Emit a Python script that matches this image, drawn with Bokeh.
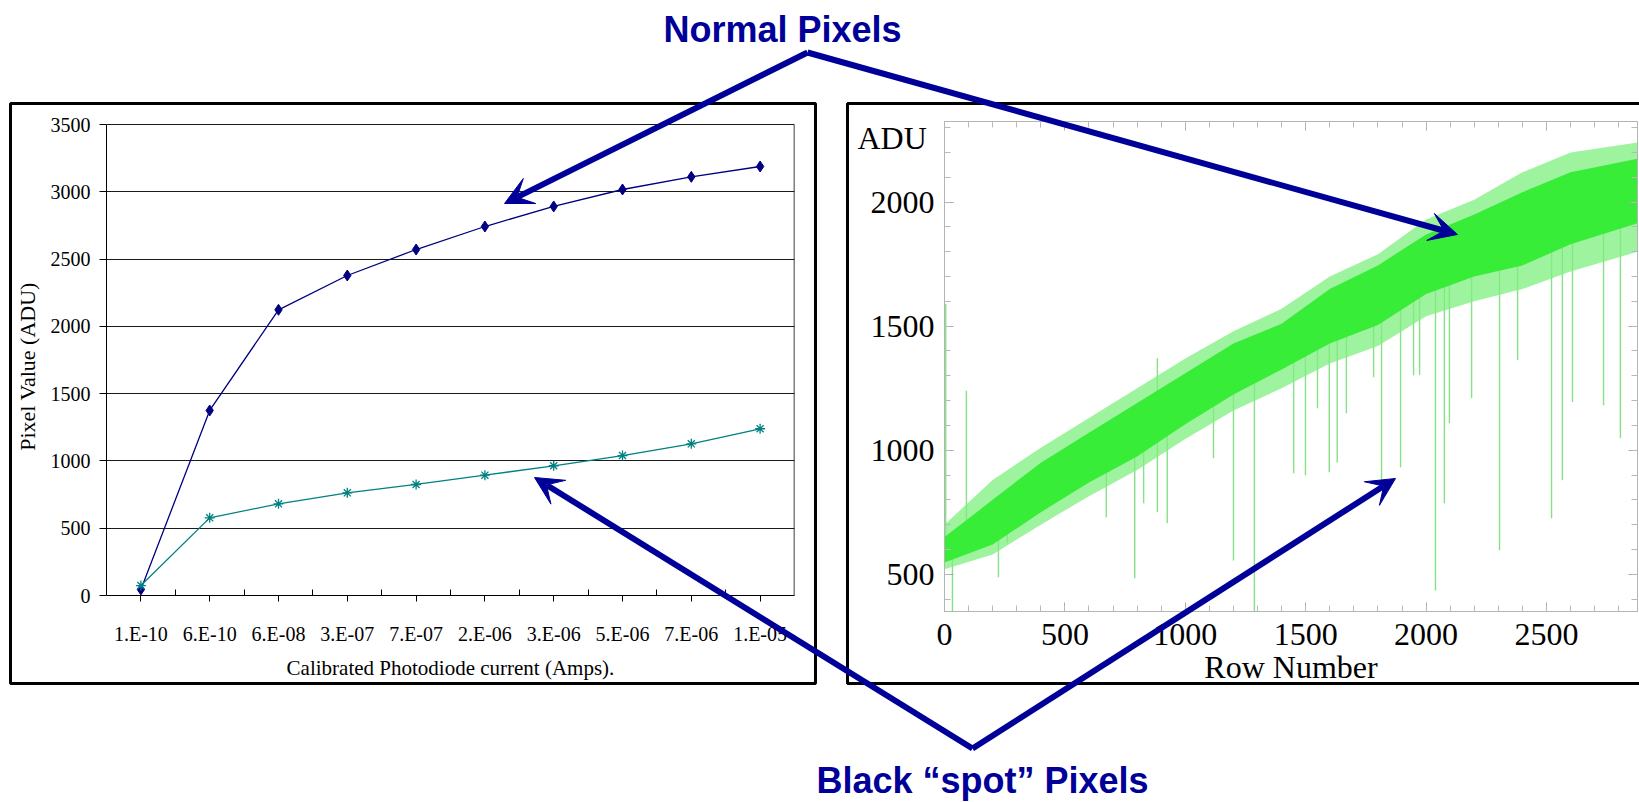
import numpy as np
from bokeh.plotting import figure
from bokeh.models import (Range1d, FixedTicker, LinearAxis, Arrow, VeeHead, Label,
                          BoxAnnotation)
from bokeh.layouts import row, column
from bokeh.embed import file_html
from bokeh.resources import INLINE

# ---------------- data: left chart ----------------
currents = ["1.E-10", "6.E-10", "6.E-08", "3.E-07", "7.E-07",
            "2.E-06", "3.E-06", "5.E-06", "7.E-06", "1.E-05"]
normal_adu = [45, 1375, 2123, 2378, 2571, 2742, 2891, 3017, 3111, 3188]
spot_adu = [74, 577, 681, 763, 825, 894, 964, 1040, 1127, 1239]
left_y_ticks = [0, 500, 1000, 1500, 2000, 2500, 3000, 3500]

# ---------------- data: right chart (row profile) ----------------
band_rows = [0, 200, 400, 600, 800, 1000, 1200, 1400, 1600, 1800, 2000, 2200, 2400, 2600, 2878]
core_low = [548, 620, 750, 870, 975, 1105, 1225, 1325, 1430, 1505, 1630, 1700, 1745, 1830, 1915]
core_high = [650, 800, 950, 1070, 1190, 1310, 1430, 1510, 1650, 1745, 1870, 1950, 2040, 2120, 2175]
tip_low = [520, 580, 700, 815, 920, 1045, 1160, 1250, 1350, 1420, 1540, 1600, 1650, 1720, 1800]
tip_high = [700, 880, 1010, 1130, 1250, 1370, 1480, 1570, 1700, 1790, 1930, 2010, 2120, 2200, 2240]
dip_rows = [5, 33, 91, 224, 261, 672, 790, 827, 884, 925, 1117, 1200, 1287, 1450, 1499,
            1549, 1598, 1631, 1669, 1782, 1815, 1894, 1948, 1973, 2039, 2076, 2097, 2189,
            2305, 2380, 2521, 2566, 2608, 2737, 2807]
dip_end = [1590, 340, 1240, 488, 625, 730, 484, 786, 1371, 706, 968, 556, 340, 907, 899,
           1169, 911, 951, 1149, 1294, 871, 931, 1302, 1304, 435, 786, 1109, 1210,
           597, 1363, 726, 879, 1194, 1181, 1048]
dip_start = [600, 600, 660, 700, 720, 960, 1040, 1060, 750, 1110, 1260, 1300, 1360, 1400, 1420,
             1450, 1480, 1500, 1520, 1580, 1600, 1640, 1680, 1690, 1720, 1740, 1750, 1790,
             1830, 1860, 1900, 1920, 1940, 1990, 2010]
right_x_ticks = [0, 500, 1000, 1500, 2000, 2500]
right_y_ticks = [500, 1000, 1500, 2000]

SERIF = "Liberation Serif"
SANS = "Liberation Sans"
ANN = "#000099"
W, H = 1639, 802

# shared frame (the two charts sit in one row, whose frames line up)
FRAME_TOP, FRAME_BOTTOM = 121, 611
# left chart: value 0 sits at y=595 px and 3500 at y=124 px
L_PX_PER_UNIT = (595 - 124) / 3500.0
l_ymin = -(FRAME_BOTTOM - 595) / L_PX_PER_UNIT
l_ymax = 3500 + (124 - FRAME_TOP) / L_PX_PER_UNIT

# ---------------- left chart ----------------
xpos = list(range(1, len(currents) + 1))
x_lo, x_hi = 0.5, len(currents) + 0.5
A = figure(width=832, height=H, x_range=Range1d(x_lo, x_hi),
           y_range=Range1d(l_ymin, l_ymax), output_backend="svg", toolbar_location=None,
           min_border_left=106, min_border_right=38, min_border_top=FRAME_TOP,
           min_border_bottom=H - FRAME_BOTTOM, title=None)
A.background_fill_color = "white"
A.border_fill_color = "white"
A.outline_line_color = None
A.xgrid.visible = False
A.ygrid.grid_line_color = "#1a1a1a"
A.ygrid.ticker = FixedTicker(ticks=left_y_ticks)

x_ticker = FixedTicker(ticks=xpos, minor_ticks=[i + 0.5 for i in xpos[:-1]])

# labels axis (sits at frame bottom, draws only the texts)
label_ax = A.below[0]
label_ax.ticker = x_ticker
label_ax.major_label_overrides = {i: c for i, c in zip(xpos, currents)}
label_ax.axis_line_color = None
label_ax.major_tick_line_color = None
label_ax.minor_tick_line_color = None
label_ax.major_tick_out = 0
label_ax.minor_tick_out = 0
label_ax.major_tick_in = 0
label_ax.minor_tick_in = 0
label_ax.major_label_standoff = 11
label_ax.axis_label = "Calibrated Photodiode current (Amps)."
label_ax.axis_label_standoff = 8

# axis line and ticks at value 0
line_ax = LinearAxis(ticker=x_ticker, fixed_location=left_y_ticks[0],
                     major_label_overrides={i: "" for i in xpos},
                     major_tick_in=0, major_tick_out=6, minor_tick_in=6, minor_tick_out=0,
                     axis_line_color="black", major_tick_line_color="black",
                     minor_tick_line_color="black")
A.add_layout(line_ax, "below")

y_ax = A.left[0]
y_ax.ticker = FixedTicker(ticks=left_y_ticks)
y_ax.bounds = (left_y_ticks[0], left_y_ticks[-1])
y_ax.major_tick_in = 0
y_ax.major_tick_out = 7
y_ax.minor_tick_in = 0
y_ax.minor_tick_out = 0
y_ax.major_label_standoff = 9
y_ax.axis_label = "Pixel Value (ADU)"
y_ax.axis_label_standoff = 8
y_ax.axis_line_color = "black"
y_ax.major_tick_line_color = "black"

for ax in (label_ax, y_ax):
    ax.major_label_text_font = SERIF
    ax.major_label_text_font_size = "20px"
    ax.major_label_text_color = "black"
    ax.axis_label_text_font = SERIF
    ax.axis_label_text_font_style = "normal"
    ax.axis_label_text_color = "black"
label_ax.axis_label_text_font_size = "21px"
y_ax.axis_label_text_font_size = "22px"

# right edge of the plot area
A.segment(x0=[x_hi], y0=[left_y_ticks[0]], x1=[x_hi], y1=[left_y_ticks[-1]],
          line_color="black", line_width=1.5)

A.line(xpos, normal_adu, line_color="#000080", line_width=1.3)
A.scatter(xpos, normal_adu, marker="diamond", size=11, fill_color="#000080", line_color="#000080")
A.line(xpos, spot_adu, line_color="#008080", line_width=1.3)
A.scatter(xpos, spot_adu, marker="asterisk", size=10, line_color="#008080", line_width=1.3)

# ---------------- right chart ----------------
B = figure(width=W - 832, height=H, x_range=Range1d(0, 2878), y_range=Range1d(350, 2325),
           output_backend="svg", toolbar_location=None, title=None,
           min_border_left=112, min_border_right=2, min_border_top=FRAME_TOP,
           min_border_bottom=H - FRAME_BOTTOM)
B.background_fill_color = "white"
B.border_fill_color = "white"
B.grid.visible = False
B.outline_line_color = "#b4b4b4"

xt = FixedTicker(ticks=right_x_ticks, minor_ticks=list(range(0, 2900, 100)))
yt = FixedTicker(ticks=right_y_ticks, minor_ticks=list(range(400, 2400, 100)))
bottom_ax = B.below[0]
left_ax = B.left[0]
bottom_ax.ticker = xt
left_ax.ticker = yt
bottom_ax.axis_label = "Row Number"
bottom_ax.axis_label_standoff = 1
bottom_ax.major_label_standoff = 12
left_ax.major_label_standoff = 10
bottom_ax.major_label_text_font_size = "32px"
left_ax.major_label_text_font_size = "32px"

top_ax = LinearAxis(ticker=xt, major_label_overrides={t: "" for t in right_x_ticks},
                    major_label_standoff=0)
right_ax = LinearAxis(ticker=yt, major_label_overrides={t: "" for t in right_y_ticks},
                      major_label_standoff=0)
B.add_layout(top_ax, "above")
B.add_layout(right_ax, "right")

for ax in (bottom_ax, left_ax, top_ax, right_ax):
    ax.axis_line_color = "#b4b4b4"
    ax.major_tick_line_color = "#a8a8a8"
    ax.minor_tick_line_color = "#b8b8b8"
    ax.major_tick_in = 9
    ax.major_tick_out = 0
    ax.minor_tick_in = 6
    ax.minor_tick_out = 0
    ax.major_label_text_font = SERIF
    ax.major_label_text_color = "black"
    ax.axis_label_text_font = SERIF
    ax.axis_label_text_font_size = "32px"
    ax.axis_label_text_font_style = "normal"
    ax.axis_label_text_color = "black"

B.segment(x0=dip_rows, y0=dip_start, x1=dip_rows, y1=dip_end,
          line_color="#86e286", line_width=1.4)
B.varea(x=band_rows, y1=tip_low, y2=tip_high, fill_color="#7eef7e", fill_alpha=0.75)
B.varea(x=band_rows, y1=core_low, y2=core_high, fill_color="#33ec33", fill_alpha=0.95)

# ---------------- overlay with frames, arrows and titles ----------------
C = figure(width=W, height=H, x_range=Range1d(0, W), y_range=Range1d(0, H),
           output_backend="svg", toolbar_location=None, title=None,
           x_axis_location=None, y_axis_location=None, min_border=0)
C.grid.visible = False
C.background_fill_alpha = 0
C.border_fill_alpha = 0
C.outline_line_color = None


def Y(v):
    return H - v


C.add_layout(BoxAnnotation(left=10, right=815, bottom=Y(683), top=Y(103), fill_alpha=0,
                           line_color="black", line_alpha=1.0, line_width=3))
C.add_layout(BoxAnnotation(left=847, right=W + 20, bottom=Y(683), top=Y(103), fill_alpha=0,
                           line_color="black", line_alpha=1.0, line_width=3))

C.add_layout(Label(x=857, y=Y(137), text="ADU", text_font=SERIF, text_font_size="32px",
                   text_color="black", text_align="left", text_baseline="alphabetic"))

arrows = [((807, 52), (504, 203)), ((807, 52), (1457, 234)),
          ((972, 748), (534, 477)), ((972, 748), (1395, 478))]
for (xs, ys), (xe, ye) in arrows:
    C.add_layout(Arrow(x_start=xs, y_start=Y(ys), x_end=xe, y_end=Y(ye),
                       line_color=ANN, line_width=6,
                       end=VeeHead(size=28, fill_color=ANN, line_color=ANN, line_width=1)))

C.add_layout(Label(x=782, y=Y(29), text="Normal Pixels", text_font=SANS,
                   text_font_style="bold", text_font_size="36px", text_color=ANN,
                   text_align="center", text_baseline="alphabetic"))
C.add_layout(Label(x=982, y=Y(780), text="Black \u201cspot\u201d Pixels", text_font=SANS,
                   text_font_style="bold", text_font_size="36px", text_color=ANN,
                   text_align="center", text_baseline="alphabetic"))

C.margin = (-H, 0, 0, 0)
layout = column(row(A, B), C)

open("out.html", "w").write(file_html(layout, INLINE))
